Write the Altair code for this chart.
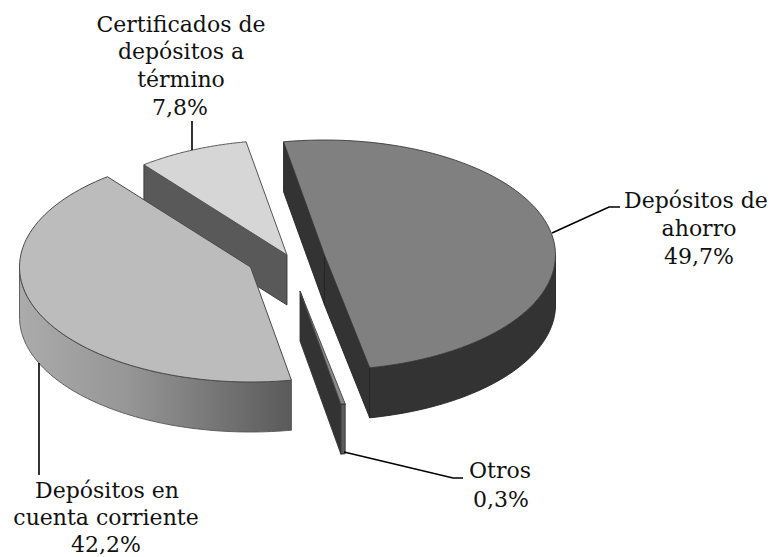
import math
import altair as alt
import pandas as pd

# values
categories = ["Depósitos de ahorro", "Otros", "Depósitos en cuenta corriente", "Certificados de depósitos a término"]
shares = [49.7, 0.3, 42.2, 7.8]

label_lines = ["Certificados de", "depósitos a", "término", "7,8%",
               "Depósitos de", "ahorro", "49,7%",
               "Otros", "0,3%",
               "Depósitos en", "cuenta corriente", "42,2%"]
label_x = [181, 181, 181, 180, 696, 699, 699, 500, 501, 107, 106, 106]
label_y = [32, 59, 87, 115, 208, 236, 264, 478, 507, 498, 525, 552]

# pie geometry (drawing parameters)
RX, RY, DEPTH, START = 231, 115, 50, -10.2
centres = {"Depósitos de ahorro": (324.5, 255), "Otros": (300, 291),
           "Depósitos en cuenta corriente": (250.5, 267),
           "Certificados de depósitos a término": (287, 255)}

spans = {}
a = START
for c, s in zip(categories, shares):
    spans[c] = (a, a + s * 3.6)
    a += s * 3.6


def pt(cat, t, dz=0):
    cx, cy = centres[cat]
    r = math.radians(t)
    return (cx + RX * math.sin(r), cy - RY * math.cos(r) + dz)


def arc(cat, t0, t1, dz=0, n=80):
    return [pt(cat, t0 + (t1 - t0) * i / n, dz) for i in range(n + 1)]


def top(cat):
    t0, t1 = spans[cat]
    return [centres[cat]] + arc(cat, t0, t1)


def outer(cat, t0, t1):
    return arc(cat, t0, t1) + arc(cat, t1, t0, DEPTH)


def cut(cat, t):
    c = centres[cat]
    p = pt(cat, t)
    return [c, p, (p[0], p[1] + DEPTH), (c[0], c[1] + DEPTH)]


sx = alt.Scale(domain=[8, 769], range=[0, 761])
sy = alt.Scale(domain=[8, 557], range=[0, 549])


def poly(points, fill, stroke="#3a3a3a", sw=0.9):
    df = pd.DataFrame({"x": [p[0] for p in points], "y": [p[1] for p in points], "i": range(len(points))})
    return alt.Chart(df).mark_line(interpolate="linear-closed", fill=fill, stroke=stroke, strokeWidth=sw).encode(
        x=alt.X("x:Q", scale=sx, axis=None),
        y=alt.Y("y:Q", scale=sy, axis=None),
        order="i:Q",
    )


def leader(points):
    df = pd.DataFrame({"x": [p[0] for p in points], "y": [p[1] for p in points], "i": range(len(points))})
    return alt.Chart(df).mark_line(color="#000000", strokeWidth=1.6).encode(
        x=alt.X("x:Q", scale=sx, axis=None),
        y=alt.Y("y:Q", scale=sy, axis=None),
        order="i:Q",
    )


AH, OT, CC, CD = categories
grad = alt.Gradient(gradient="linear", x1=0, x2=1, y1=0, y2=0,
                    stops=[alt.GradientStop(offset=0, color="#ababab"),
                           alt.GradientStop(offset=0.4, color="#969696"),
                           alt.GradientStop(offset=1, color="#5a5a5a")])

layers = [
    poly(cut(CD, spans[CD][0]), "#595959"),
    poly(top(CD), "#d6d6d6", "#555555", 1),
    poly(outer(CC, spans[CC][0], 270), grad, "#555555", 0.9),
    poly(top(CC), "#bcbcbc", "#4a4a4a", 1),
    poly(cut(AH, spans[AH][0]), "#333333", "#222222"),
    poly(cut(AH, spans[AH][1]), "#333333", "#222222"),
    poly(outer(AH, 90, spans[AH][1]), "#333333", "#222222"),
    poly(top(AH), "#808080", "#3a3a3a"),
    poly(cut(OT, spans[OT][1]), "#333333", "#333333"),
    poly(outer(OT, *spans[OT]), "#5c5c5c", "#333333"),
    poly(top(OT), "#8a8a8a", "#444444"),
    leader([(192, 121), (192, 150)]),
    leader([(552, 233), (609, 207), (620, 207)]),
    leader([(344, 452), (453, 478), (463, 478)]),
    leader([(39, 363), (39, 475)]),
]

labels = pd.DataFrame({"t": label_lines, "x": label_x, "y": label_y})
layers.append(
    alt.Chart(labels).mark_text(font="DejaVu Serif", fontSize=22, color="#111111", align="center", baseline="alphabetic").encode(
        x=alt.X("x:Q", scale=sx, axis=None),
        y=alt.Y("y:Q", scale=sy, axis=None),
        text="t:N",
    )
)

chart = alt.layer(*layers).properties(
    width=761, height=549, padding=0, autosize=alt.AutoSizeParams(type="none")
).configure_view(stroke=None)

chart.save("out.html", embed_options={"renderer": "svg", "actions": False})
